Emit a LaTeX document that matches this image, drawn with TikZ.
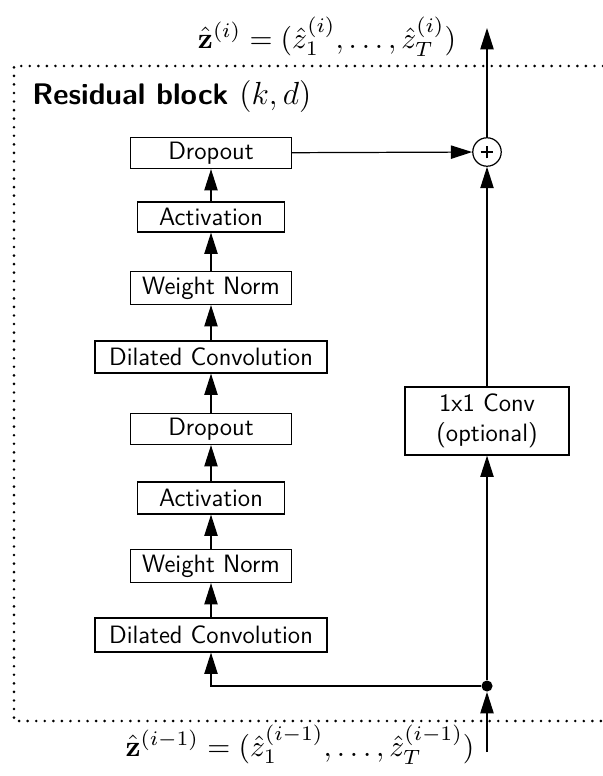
\documentclass[tikz,border=0pt]{standalone}
\usepackage{amsmath}
\usetikzlibrary{arrows.meta}
\begin{document}
\begin{tikzpicture}[x=0.45pt,y=-0.45pt,
  blk/.style={draw,line width=0.55pt,inner sep=0pt,font=\sffamily\fontsize{11.3}{13.5}\selectfont,minimum height=14pt},
  arr/.style={line width=0.55pt,-{Triangle[length=9.6pt,width=6pt]}},
  ln/.style={line width=0.55pt}]
\useasboundingbox (0,0) rectangle (603,776);
% dotted frame
\draw[line width=1.3pt,line cap=round,dash pattern=on 0pt off 3.85pt] (603,66) -- (14,66) -- (14,721) -- (603,721);
\node[anchor=west,font=\sffamily\bfseries\fontsize{13.4}{16}\selectfont,inner sep=0pt] (title) at (32,97) {Residual block \normalfont$(k,d)$};
% left column
\node[blk,minimum width=72.45pt,minimum height=13.95pt] (d2) at (211,153) {Dropout};
\node[blk,minimum width=66.15pt,minimum height=13.5pt] (a2) at (211,217) {Activation};
\node[blk,minimum width=72.45pt,minimum height=14.85pt] (w2) at (211,288) {Weight Norm};
\node[blk,minimum width=104.4pt,minimum height=14.4pt] (c2) at (211,357) {Dilated Convolution};
\node[blk,minimum width=72.45pt,minimum height=13.95pt] (d1) at (211,429) {Dropout};
\node[blk,minimum width=66.15pt,minimum height=14.4pt] (a1) at (211,498) {Activation};
\node[blk,minimum width=72.45pt,minimum height=14.85pt] (w1) at (211,566) {Weight Norm};
\node[blk,minimum width=104.4pt,minimum height=15.3pt] (c1) at (211,635) {Dilated Convolution};
% right column
\node[blk,minimum width=73.8pt,minimum height=30.6pt,align=center] (conv) at (487,421) {1x1 Conv\\(optional)};
\node[draw,circle,line width=0.55pt,inner sep=0pt,minimum size=12.8pt] (plus) at (487,152) {};
\draw[line width=0.5pt] ([xshift=-2.9pt]plus.center) -- ([xshift=2.9pt]plus.center)
  ([yshift=-2.9pt]plus.center) -- ([yshift=2.9pt]plus.center);
\node[circle,fill,inner sep=0pt,minimum size=5pt] (dot) at (487,686) {};
\coordinate (in) at (487,752);
\coordinate (out) at (487,28);
% labels
\node[scale=1.33] (zout) at (327,37) {$\hat{\mathbf{z}}^{(i)} = (\hat{z}_1^{(i)},\ldots,\hat{z}_T^{(i)})$};
\node[scale=1.33] (zin) at (300,745) {$\hat{\mathbf{z}}^{(i-1)} = (\hat{z}_1^{(i-1)},\ldots,\hat{z}_T^{(i-1)})$};
% connectors
\draw[arr] (c1) -- (w1);
\draw[arr] (w1) -- (a1);
\draw[arr] (a1) -- (d1);
\draw[arr] (d1) -- (c2);
\draw[arr] (c2) -- (w2);
\draw[arr] (w2) -- (a2);
\draw[arr] (a2) -- (d2);
\draw[arr] (d2) -- (plus);
\draw[arr] (conv) -- (plus);
\draw[arr] (dot) -- (conv);
\draw[arr] (dot) -| (c1);
\draw[arr] (in) -- (dot);
\draw[arr] (plus) -- (out);
\end{tikzpicture}
\end{document}
